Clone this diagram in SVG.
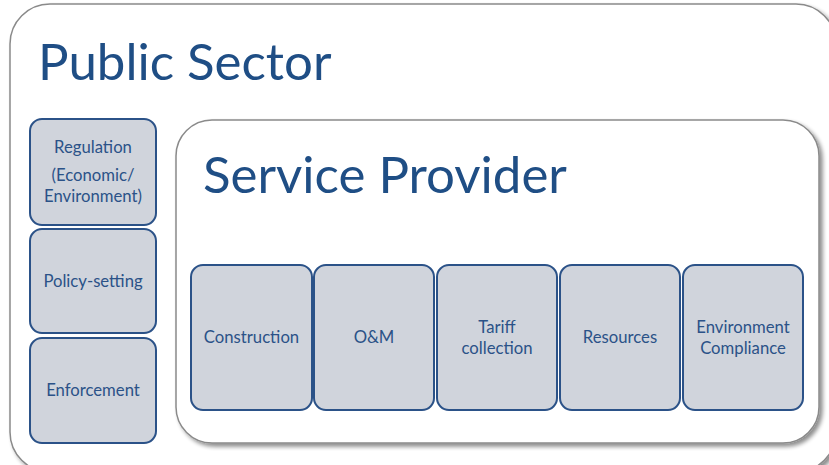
<svg xmlns="http://www.w3.org/2000/svg" width="829" height="465" viewBox="0 0 829 465">
  <defs>
    <filter id="shadow" x="-5%" y="-5%" width="115%" height="115%">
      <feGaussianBlur in="SourceAlpha" stdDeviation="2"/>
      <feOffset dx="3" dy="3" result="b"/>
      <feComponentTransfer><feFuncA type="linear" slope="0.45"/></feComponentTransfer>
      <feMerge><feMergeNode/><feMergeNode in="SourceGraphic"/></feMerge>
    </filter>
  </defs>
  <style>
    .panel { fill: #ffffff; stroke: #8a8a8a; stroke-width: 1.5; }
    .box { fill: #d0d4dc; stroke: #2b5288; stroke-width: 2; }
    .title { font-family: Lato, "Liberation Sans", sans-serif; fill: #1f4e85; }
    .lbl { font-family: Lato, "Liberation Sans", sans-serif; font-size: 16.7px; fill: #2b5288; text-anchor: middle; }
  </style>

  <!-- outer panel -->
  <g id="public-sector">
    <rect class="panel" x="10" y="4" width="826" height="468" rx="40" ry="40" filter="url(#shadow)"/>
    <text class="title" x="38" y="80" font-size="51">Public Sector</text>
  </g>

  <!-- left column -->
  <g id="regulation">
    <rect class="box" x="30" y="119" width="126" height="106" rx="12"/>
    <text class="lbl" x="93" y="153">Regulation</text>
    <text class="lbl" x="93" y="181">(Economic/</text>
    <text class="lbl" x="93" y="202">Environment)</text>
  </g>
  <g id="policy-setting">
    <rect class="box" x="30" y="229" width="126" height="104" rx="12"/>
    <text class="lbl" x="93" y="287">Policy-setting</text>
  </g>
  <g id="enforcement">
    <rect class="box" x="30" y="338" width="126" height="105" rx="12"/>
    <text class="lbl" x="93" y="396">Enforcement</text>
  </g>

  <!-- inner panel -->
  <g id="service-provider">
    <rect class="panel" x="176" y="120" width="643" height="323" rx="36" ry="36" filter="url(#shadow)"/>
    <text class="title" x="203" y="193" font-size="51">Service Provider</text>
  </g>

  <g id="construction">
    <rect class="box" x="191" y="265" width="121" height="145" rx="12"/>
    <text class="lbl" x="251.5" y="343">Construction</text>
  </g>
  <g id="om">
    <rect class="box" x="314" y="265" width="120" height="145" rx="12"/>
    <text class="lbl" x="374" y="343">O&amp;M</text>
  </g>
  <g id="tariff-collection">
    <rect class="box" x="437" y="265" width="120" height="145" rx="12"/>
    <text class="lbl" x="497" y="333">Tariff</text>
    <text class="lbl" x="497" y="354">collection</text>
  </g>
  <g id="resources">
    <rect class="box" x="560" y="265" width="120" height="145" rx="12"/>
    <text class="lbl" x="620" y="343">Resources</text>
  </g>
  <g id="environment-compliance">
    <rect class="box" x="683" y="265" width="120" height="145" rx="12"/>
    <text class="lbl" x="743" y="333">Environment</text>
    <text class="lbl" x="743" y="354">Compliance</text>
  </g>

  <g id="connectors"/>
</svg>
